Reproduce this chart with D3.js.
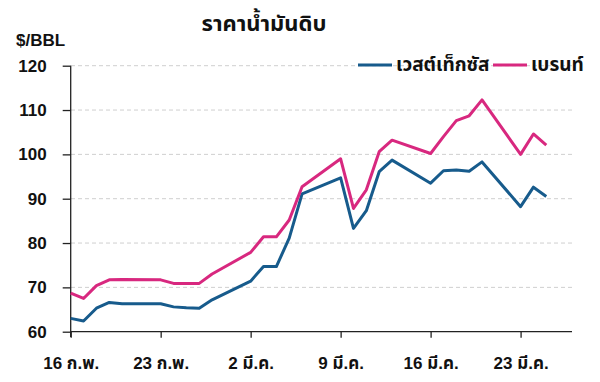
<!DOCTYPE html>
<html><head><meta charset="utf-8">
<script src="https://cdn.jsdelivr.net/npm/d3@7"></script>
<style>
html,body{margin:0;padding:0;background:#fff;}
text{font-family:"Liberation Sans","Noto Sans Thai","Noto Sans",sans-serif;fill:#111;}
</style></head><body>
<svg id="c" width="600" height="382"></svg>
<script>
const dates = ["2026-02-16","2026-02-17","2026-02-18","2026-02-19","2026-02-20",
  "2026-02-23","2026-02-24","2026-02-25","2026-02-26","2026-02-27",
  "2026-03-02","2026-03-03","2026-03-04","2026-03-05","2026-03-06",
  "2026-03-09","2026-03-10","2026-03-11","2026-03-12","2026-03-13",
  "2026-03-16","2026-03-17","2026-03-18","2026-03-19","2026-03-20",
  "2026-03-23","2026-03-24","2026-03-25"];
const wti = [63.0,62.4,65.3,66.6,66.3, 66.3,65.6,65.4,65.3,67.2, 71.4,74.7,74.7,81.1,91.1,
  94.7,83.3,87.3,96.1,98.7, 93.5,96.3,96.5,96.2,98.3, 88.2,92.6,90.5];
const brent = [68.7,67.5,70.4,71.7,71.8, 71.7,70.9,70.9,70.9,73.0, 77.9,81.4,81.4,85.2,92.7,
  99.0,87.8,92.0,100.6,103.2, 100.2,104.0,107.6,108.7,112.3, 100.0,104.6,102.1];
const xTickDates = ["2026-02-16","2026-02-23","2026-03-02","2026-03-09","2026-03-16","2026-03-23"];
const xTickLabels = ["16 ก.พ.","23 ก.พ.","2 มี.ค.","9 มี.ค.","16 มี.ค.","23 มี.ค."];
const yTicks = [60,70,80,90,100,110,120];
const seriesNames = ["เวสต์เท็กซัส","เบรนท์"];
const seriesColors = ["#175b8c","#d8287f"];
const title = "ราคาน้ำมันดิบ";
const unit = "$/BBL";

const parse = d3.utcParse("%Y-%m-%d");
const svg = d3.select("#c");
const x = d3.scaleUtc().domain([parse("2026-02-16"), parse("2026-03-27")]).range([70.7, 572]);
const y = d3.scaleLinear().domain([60,120]).range([331.7, 65.7]);

// grid
svg.append("g").selectAll("line").data(yTicks.filter(v=>v>60)).join("line")
  .attr("x1",71).attr("x2",572).attr("y1",d=>y(d)).attr("y2",d=>y(d))
  .attr("stroke","#cfcfcf").attr("stroke-width",1).attr("stroke-dasharray","4,3");

// y axis
const ya = svg.append("g").attr("transform","translate(70.7,0)")
  .call(d3.axisLeft(y).tickValues(yTicks).tickSize(8).tickPadding(16).tickFormat(d3.format("d")));
ya.select(".domain").attr("stroke","#222").attr("stroke-width",1.3).attr("d","M0,65.7V337");
ya.selectAll(".tick line").attr("stroke","#222").attr("stroke-width",1.3);
ya.selectAll("text").style("font-size","17px").style("font-weight","bold").attr("fill","#111");

// x axis
const xa = svg.append("g").attr("transform","translate(0,331.7)")
  .call(d3.axisBottom(x).tickValues(xTickDates.map(parse)).tickSize(6).tickPadding(19)
    .tickFormat((d,i)=>xTickLabels[i]));
xa.select(".domain").attr("stroke","#222").attr("stroke-width",1.3).attr("d","M70.7,0H572");
xa.selectAll(".tick line").attr("stroke","#222").attr("stroke-width",1.3);
xa.selectAll("text").style("font-size","17px").style("font-weight","bold").attr("fill","#111");

// lines
const line = d3.line().x((d,i)=>x(parse(dates[i]))).y(d=>y(d));
[wti,brent].forEach((s,k)=>{
  svg.append("path").attr("d",line(s)).attr("fill","none")
    .attr("stroke",seriesColors[k]).attr("stroke-width",3).attr("stroke-linejoin","round");
});

// title
svg.append("text").attr("x",264).attr("y",31).attr("text-anchor","middle")
  .style("font-size","22px").style("font-weight","bold").text(title);
svg.append("text").attr("x",16).attr("y",46).style("font-size","17px").style("font-weight","bold").text(unit);

// legend
const lg = [{x1:358,x2:392,tx:396},{x1:493,x2:527,tx:531}];
lg.forEach((p,k)=>{
  svg.append("line").attr("x1",p.x1).attr("x2",p.x2).attr("y1",65).attr("y2",65)
    .attr("stroke",seriesColors[k]).attr("stroke-width",3);
  svg.append("text").attr("x",p.tx).attr("y",71).style("font-size","19px").style("font-weight","bold")
    .text(seriesNames[k]);
});
</script></body></html>
